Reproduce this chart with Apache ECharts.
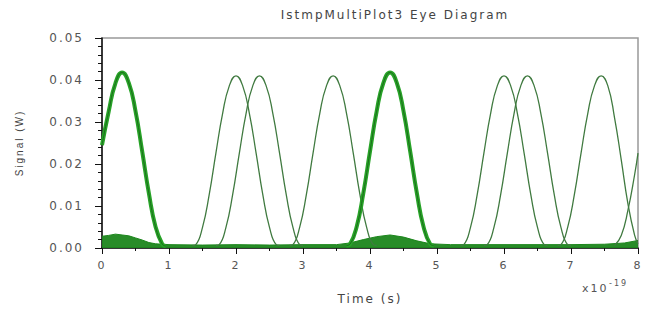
<!DOCTYPE html>
<html>
<head>
<meta charset="utf-8">
<script src="https://cdn.jsdelivr.net/npm/echarts@6/dist/echarts.min.js"></script>
<style>
  html, body { margin: 0; padding: 0; background: #fff; }
  #chart { width: 650px; height: 316px; }
  /* the source plot uses widely spaced glyphs */
  #chart text { letter-spacing: 2px; }
</style>
</head>
<body>
<div id="chart"></div>
<script>
// time in units of 1e-10 s, signal in W
const xTicks = [0, 1, 2, 3, 4, 5, 6, 7, 8];
const yTicks = [0, 0.01, 0.02, 0.03, 0.04, 0.05];

// noisy traces (thick)
const pulse03 = [[0,0.0245],[0.1,0.0325],[0.2,0.0392],[0.3,0.0418],[0.4,0.0393],[0.5,0.0326],[0.6,0.023],[0.7,0.013],[0.8,0.005],[0.9,0.0009],[0.95,0.0005]];
const pulse43 = [[3.65,0.0006],[3.7,0.0009],[3.8,0.005],[3.9,0.013],[4.0,0.023],[4.1,0.0326],[4.2,0.0393],[4.3,0.0418],[4.4,0.0393],[4.5,0.0326],[4.6,0.023],[4.7,0.013],[4.8,0.005],[4.9,0.0009],[4.95,0.0006]];

// clean traces (thin)
const pulse20 = [[1.35,0.0006],[1.4,0.0008],[1.5,0.0049],[1.6,0.0127],[1.7,0.0226],[1.8,0.032],[1.9,0.0386],[2.0,0.041],[2.1,0.0386],[2.2,0.032],[2.3,0.0226],[2.4,0.0127],[2.5,0.0049],[2.6,0.0008],[2.65,0.0006]];
const pulse235 = [[1.7,0.0006],[1.75,0.0008],[1.85,0.0049],[1.95,0.0127],[2.05,0.0226],[2.15,0.032],[2.25,0.0386],[2.35,0.041],[2.45,0.0386],[2.55,0.032],[2.65,0.0226],[2.75,0.0127],[2.85,0.0049],[2.95,0.0008],[3.0,0.0006]];
const pulse345 = [[2.8,0.0006],[2.85,0.0008],[2.95,0.0049],[3.05,0.0127],[3.15,0.0226],[3.25,0.032],[3.35,0.0386],[3.45,0.041],[3.55,0.0386],[3.65,0.032],[3.75,0.0226],[3.85,0.0127],[3.95,0.0049],[4.05,0.0008],[4.1,0.0006]];
const pulse60 = [[5.35,0.0006],[5.4,0.0008],[5.5,0.0049],[5.6,0.0127],[5.7,0.0226],[5.8,0.032],[5.9,0.0386],[6.0,0.041],[6.1,0.0386],[6.2,0.032],[6.3,0.0226],[6.4,0.0127],[6.5,0.0049],[6.6,0.0008],[6.65,0.0006]];
const pulse635 = [[5.7,0.0006],[5.75,0.0008],[5.85,0.0049],[5.95,0.0127],[6.05,0.0226],[6.15,0.032],[6.25,0.0386],[6.35,0.041],[6.45,0.0386],[6.55,0.032],[6.65,0.0226],[6.75,0.0127],[6.85,0.0049],[6.95,0.0008],[7.0,0.0006]];
const pulse745 = [[6.8,0.0006],[6.85,0.0008],[6.95,0.0049],[7.05,0.0127],[7.15,0.0226],[7.25,0.032],[7.35,0.0386],[7.45,0.041],[7.55,0.0386],[7.65,0.031],[7.75,0.021],[7.85,0.0105],[7.95,0.003],[8.0,0.001]];
const pulseEdge = [[7.65,0.0006],[7.75,0.003],[7.85,0.009],[7.95,0.0175],[8.0,0.0226]];

// noise floor along the bottom
const floorBand = [[0,0.0028],[0.1,0.003],[0.2,0.0033],[0.3,0.0031],[0.4,0.0029],[0.5,0.0024],[0.6,0.0019],[0.7,0.0013],[0.8,0.001],[1.0,0.0008],[1.5,0.0007],[2.0,0.0008],[2.5,0.0007],[3.0,0.0008],[3.5,0.0008],[3.7,0.0012],[3.9,0.002],[4.1,0.0027],[4.3,0.0031],[4.5,0.0026],[4.7,0.0017],[4.9,0.001],[5.2,0.0008],[6.0,0.0008],[7.0,0.0008],[7.5,0.0009],[7.8,0.0012],[8.0,0.0018]];

const chart = echarts.init(document.getElementById('chart'), null, { renderer: 'svg' });

const thinTraces = [pulse20, pulse235, pulse345, pulse60, pulse635, pulse745, pulseEdge];
const noisyTraces = [pulse03, pulse43];

let series = [];
series.push({
  type: 'line',
  data: floorBand,
  symbol: 'none',
  lineStyle: { color: '#1c861c', width: 1 },
  areaStyle: { color: '#1c861c', opacity: 0.95 },
  z: 2
});
thinTraces.forEach(function (d) {
  series.push({
    type: 'line',
    data: d,
    smooth: true,
    symbol: 'none',
    lineStyle: { color: '#407a40', width: 1.3 },
    z: 3
  });
});
noisyTraces.forEach(function (d) {
  series.push({
    type: 'line',
    data: d,
    smooth: true,
    symbol: 'none',
    lineStyle: { color: '#27a327', width: 4 },
    z: 4
  });
  series.push({
    type: 'line',
    data: d,
    smooth: true,
    symbol: 'none',
    lineStyle: { color: '#1d6e1d', width: 1 },
    z: 5
  });
});

const option = {
  animation: false,
  backgroundColor: '#fff',
  title: {
    text: 'IstmpMultiPlot3 Eye Diagram',
    left: 390,
    top: 4,
    textAlign: 'center',
    textStyle: { fontFamily: 'DejaVu Sans', fontSize: 12, fontWeight: 'normal', color: '#444' }
  },
  grid: {
    left: 102, right: 12, top: 38, bottom: 68,
    show: true,
    borderColor: '#999',
    borderWidth: 1.5,
    backgroundColor: '#fff'
  },
  xAxis: {
    type: 'value',
    min: xTicks[0],
    max: xTicks[xTicks.length - 1],
    interval: 1,
    name: 'Time (s)',
    nameLocation: 'middle',
    nameGap: 45,
    nameTextStyle: { fontFamily: 'DejaVu Sans', fontSize: 12, color: '#444' },
    axisLine: { lineStyle: { color: '#111', width: 1.5 } },
    axisTick: { length: 6, lineStyle: { color: '#111' } },
    minorTick: { show: true, splitNumber: 2, length: 3, lineStyle: { color: '#111' } },
    splitLine: { show: false },
    axisLabel: { margin: 12, fontFamily: 'DejaVu Sans', fontSize: 11, color: '#555' }
  },
  yAxis: {
    type: 'value',
    min: yTicks[0],
    max: yTicks[yTicks.length - 1],
    interval: 0.01,
    name: 'Signal (W)',
    nameLocation: 'middle',
    nameGap: 78,
    nameTextStyle: { fontFamily: 'Liberation Sans', fontSize: 10, color: '#444' },
    axisLine: { lineStyle: { color: '#111', width: 1.5 } },
    axisTick: { length: 7, lineStyle: { color: '#111' } },
    minorTick: { show: true, splitNumber: 5, length: 4, lineStyle: { color: '#111' } },
    splitLine: { show: false },
    axisLabel: {
      margin: 18,
      fontFamily: 'DejaVu Sans', fontSize: 12, color: '#555',
      formatter: function (v) { return v.toFixed(2); }
    }
  },
  graphic: [{
    type: 'text',
    left: 582,
    top: 283,
    style: { text: 'x10', fontFamily: 'DejaVu Sans', fontSize: 11, fill: '#555' }
  }, {
    type: 'text',
    left: 609,
    top: 279,
    style: { text: '-19', fontFamily: 'DejaVu Sans', fontSize: 8, fill: '#555' }
  }],
  series: series
};

chart.setOption(option);
</script>
</body>
</html>
